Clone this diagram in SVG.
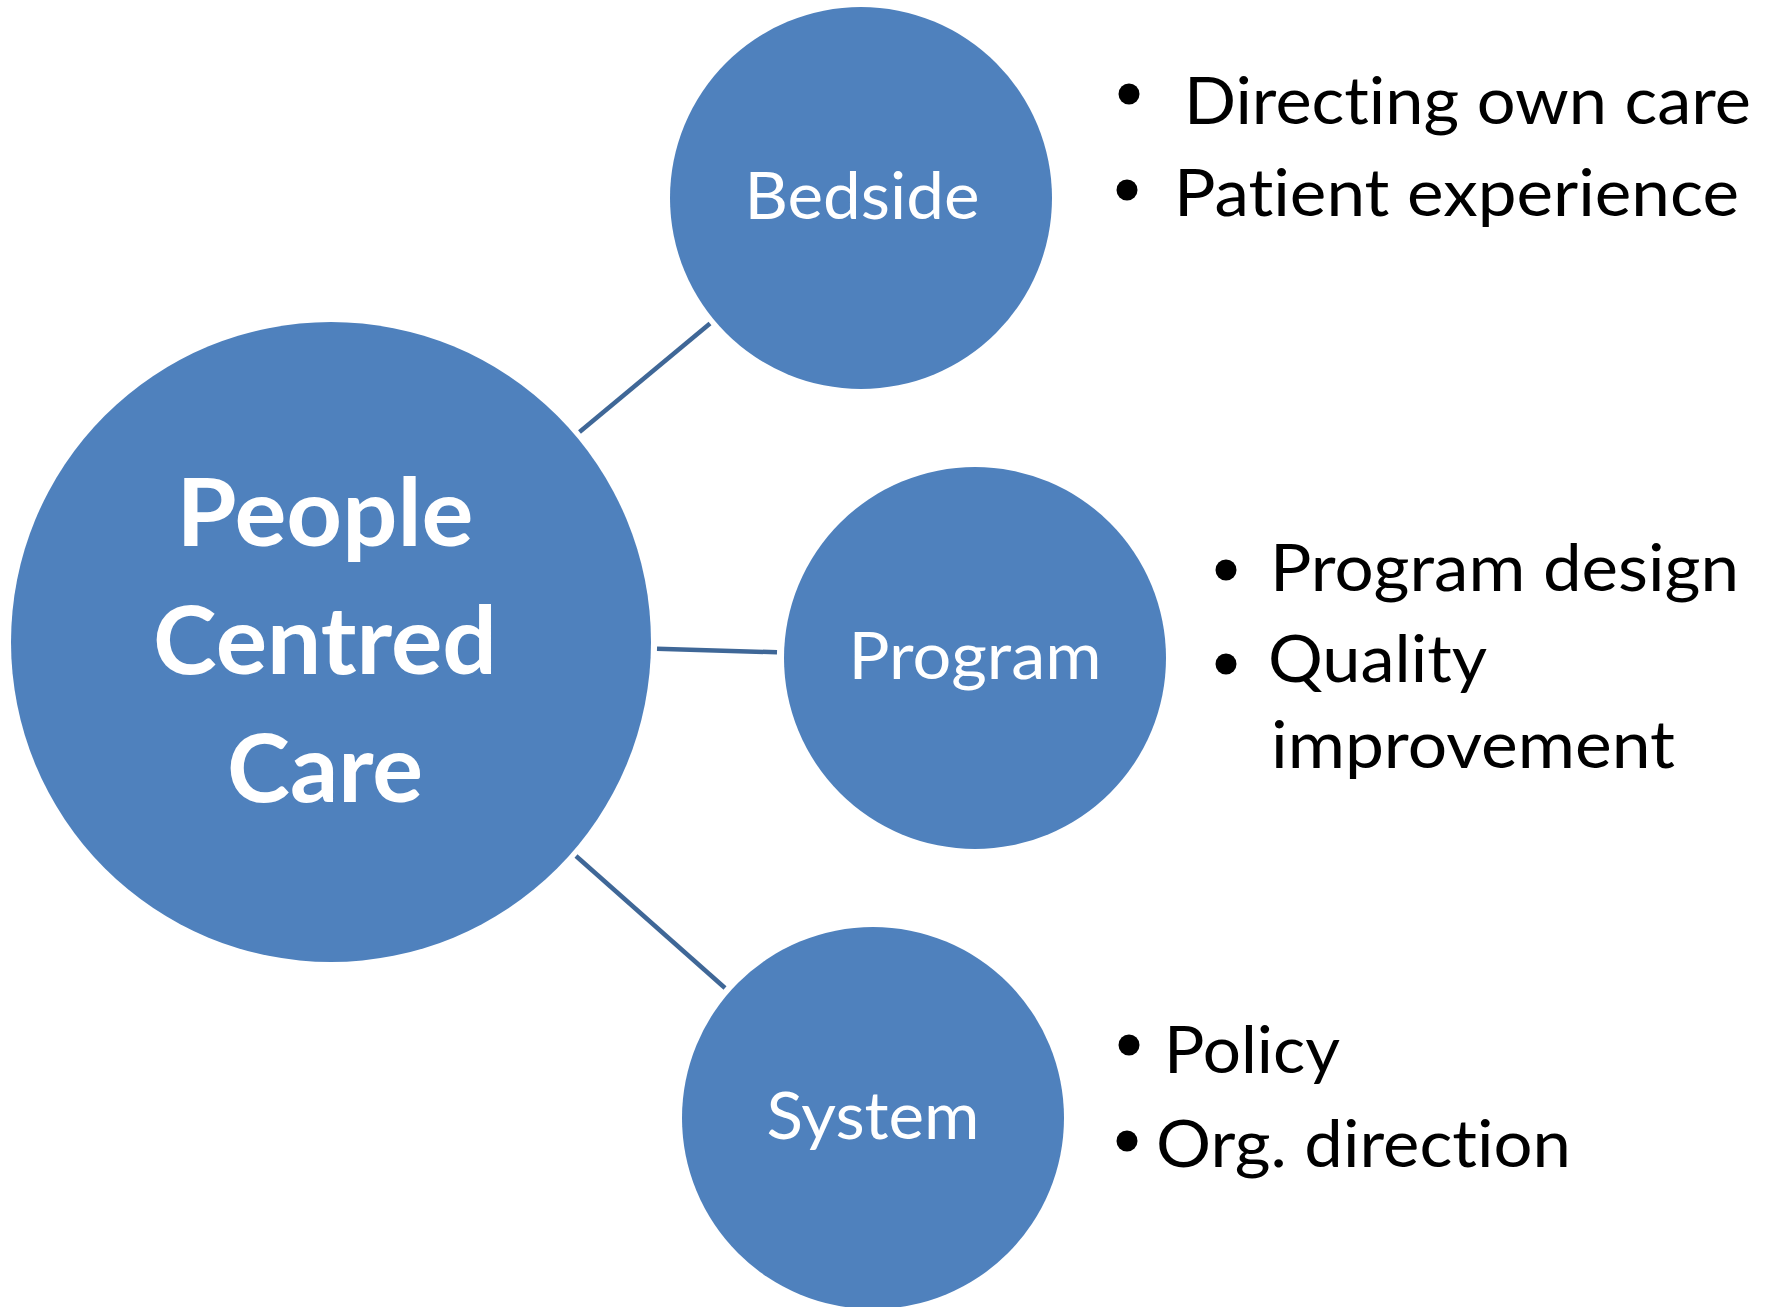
<svg xmlns="http://www.w3.org/2000/svg" width="1771" height="1307" viewBox="0 0 1771 1307">
<style>
text{font-variant-ligatures:none;font-feature-settings:"liga" 0,"clig" 0}
.node{fill:#4F81BD}
.lbl{font-family:Lato,"Open Sans","Liberation Sans",sans-serif;fill:#FFFFFF;text-anchor:middle}
.big{font-weight:bold;font-size:94px}
.mid{font-size:66px}
.bt{font-family:Lato,"Open Sans","Liberation Sans",sans-serif;font-size:66px;fill:#000000}
.dot{fill:#000000}
.conn{stroke:#3F6797;stroke-width:4.5;fill:none}
</style>
<rect width="1771" height="1307" fill="#FFFFFF"/>
<g id="connectors">
<line class="conn" x1="579.5" y1="432" x2="710" y2="323.5"/>
<line class="conn" x1="657" y1="648.7" x2="777" y2="652.3"/>
<line class="conn" x1="576" y1="856" x2="725" y2="988"/>
</g>
<g id="node-pcc">
<circle class="node" cx="331" cy="642" r="320"/>
<text class="lbl big" x="325" y="545.5" textLength="297" lengthAdjust="spacingAndGlyphs">People</text>
<text class="lbl big" x="325" y="674" textLength="344" lengthAdjust="spacingAndGlyphs">Centred</text>
<text class="lbl big" x="325" y="802" textLength="196" lengthAdjust="spacingAndGlyphs">Care</text>
</g>
<g id="node-bedside">
<circle class="node" cx="861" cy="198" r="191"/>
<text class="lbl mid" x="862" y="219" textLength="235" lengthAdjust="spacingAndGlyphs">Bedside</text>
</g>
<g id="node-program">
<circle class="node" cx="975" cy="658" r="191"/>
<text class="lbl mid" x="975" y="679" textLength="253" lengthAdjust="spacingAndGlyphs">Program</text>
</g>
<g id="node-system">
<circle class="node" cx="873" cy="1118" r="191"/>
<text class="lbl mid" x="873" y="1139" textLength="213" lengthAdjust="spacingAndGlyphs">System</text>
</g>
<g id="bullets-bedside">
<circle class="dot" cx="1129" cy="94" r="10.5"/>
<text class="bt" x="1184" y="124" textLength="567" lengthAdjust="spacingAndGlyphs">Directing own care</text>
<circle class="dot" cx="1127" cy="190" r="10.5"/>
<text class="bt" x="1174" y="216" textLength="565" lengthAdjust="spacingAndGlyphs">Patient experience</text>
</g>
<g id="bullets-program">
<circle class="dot" cx="1226" cy="570" r="10.5"/>
<text class="bt" x="1270" y="591" textLength="469" lengthAdjust="spacingAndGlyphs">Program design</text>
<circle class="dot" cx="1226" cy="664" r="10.5"/>
<text class="bt" x="1268" y="682" textLength="219" lengthAdjust="spacingAndGlyphs">Quality</text>
<text class="bt" x="1271" y="768" textLength="404" lengthAdjust="spacingAndGlyphs">improvement</text>
</g>
<g id="bullets-system">
<circle class="dot" cx="1129" cy="1045" r="10.5"/>
<text class="bt" x="1164" y="1073" textLength="176" lengthAdjust="spacingAndGlyphs">Policy</text>
<circle class="dot" cx="1127" cy="1141" r="10.5"/>
<text class="bt" x="1156" y="1167" textLength="415" lengthAdjust="spacingAndGlyphs">Org. direction</text>
</g>
</svg>
